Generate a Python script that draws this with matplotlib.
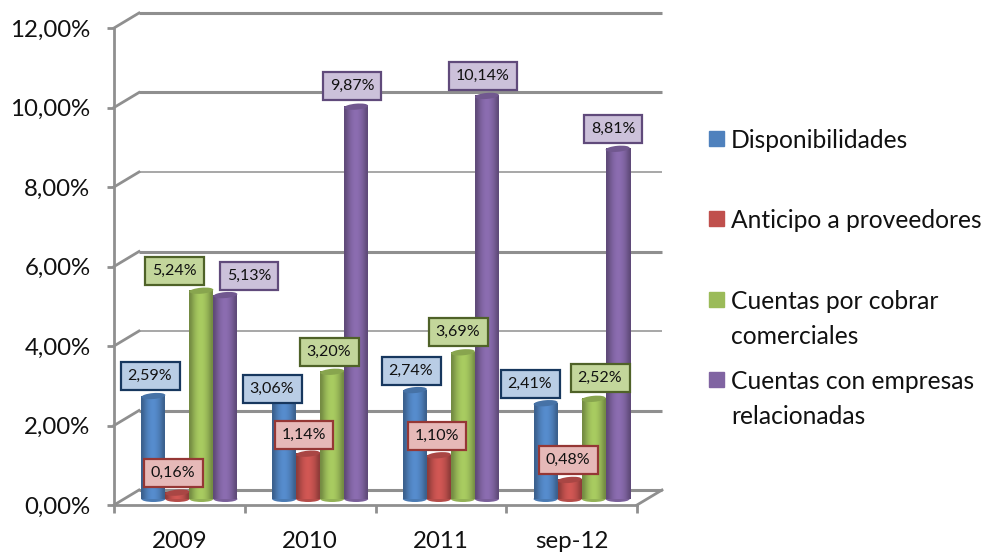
import numpy as np
import matplotlib
matplotlib.use('Agg')
import matplotlib.pyplot as plt
from matplotlib.colors import to_rgb
from matplotlib.patches import Ellipse, Rectangle
from matplotlib.transforms import IdentityTransform

years = ['2009', '2010', '2011', 'sep-12']
disponibilidades = [2.59, 3.06, 2.74, 2.41]
anticipo = [0.16, 1.14, 1.10, 0.48]
cuentas_cobrar = [5.24, 3.20, 3.69, 2.52]
cuentas_empresas = [5.13, 9.87, 10.14, 8.81]
yticks = [0, 2, 4, 6, 8, 10, 12]

series_names = ['Disponibilidades', 'Anticipo a proveedores',
                'Cuentas por cobrar\ncomerciales',
                'Cuentas con empresas\nrelacionadas']
series_values = [disponibilidades, anticipo, cuentas_cobrar, cuentas_empresas]
colors = ['#4F81BD', '#C0504D', '#9BBB59', '#8064A2']
box_fill = ['#B9CDE5', '#E6B9B8', '#C3D69B', '#CCC1DA']
box_edge = ['#17375E', '#953735', '#4F6228', '#604A7B']

# label box centres in pixels of the image, one row per series
label_x = [[150, 272, 411, 530], [173, 304, 437, 568], [174, 329, 458, 600], [249, 352, 483, 613]]
label_y = [[376, 389, 371, 384], [473, 435, 436, 460], [271, 352, 332, 378], [276, 86, 76, 129]]

W, H = 985, 552
plt.rcParams['font.family'] = ['Lato', 'DejaVu Sans']
fig = plt.figure(figsize=(W / 100, H / 100), dpi=100, facecolor='white')

# plot box in pixels: front plane of the fake 3d chart
left, right, top, bottom = 114, 637, 28, 505
ax = fig.add_axes([left / W, 1 - bottom / H, (right - left) / W, (bottom - top) / H])
ax.set_xlim(0, 4)
ax.set_ylim(0, 12)
xpx = (right - left) / 4
ypx = (bottom - top) / 12

# depth of the back wall
dx, dy = 25 / xpx, 15 / ypx
grey = '#8F8F8F'
for t in yticks:
    lw = 1.1 if t in (4, 8) else 2.2
    ax.plot([dx, 4 + dx], [t + dy, t + dy], color=grey, lw=lw, clip_on=False, zorder=1,
            solid_capstyle='butt')
    ax.plot([0, dx], [t, t + dy], color=grey, lw=2, clip_on=False, zorder=1)
ax.plot([4, 4 + dx], [0, dy], color=grey, lw=2, clip_on=False, zorder=1)

# cylinders
bar_w = 24 / xpx
base = 6 / ypx
shift = 10 / xpx
shade = np.array([0.74, 0.88, 1.0, 1.07, 1.1, 1.07, 1.0, 0.9, 0.74])
for j, vals in enumerate(series_values):
    rgb = np.array(to_rgb(colors[j]))
    strip = np.clip(np.outer(shade, rgb), 0, 1)[np.newaxis, :, :]
    for i, v in enumerate(vals):
        x = i + 0.5 + shift + (j - 1.5) * bar_w
        ax.bar(x, v, bar_w, bottom=base, color=colors[j], zorder=3)
        ax.imshow(strip, extent=(x - bar_w / 2, x + bar_w / 2, base, base + v),
                  aspect='auto', interpolation='bicubic', zorder=3.1)
        for yv, col in [(base, rgb * 0.95), (base + v, rgb * 0.88)]:
            cx, cy = ax.transData.transform((x, yv))
            ax.add_patch(Ellipse((cx, cy), 24, 6, angle=5 if yv > base else 0,
                                 transform=IdentityTransform(), facecolor=col,
                                 edgecolor='none', zorder=3.05 if yv == base else 3.2,
                                 clip_on=False))
ax.set_xlim(0, 4)
ax.set_ylim(0, 12)

# value labels
for j, vals in enumerate(series_values):
    for i, v in enumerate(vals):
        txt = f'{v:.2f}%'.replace('.', ',')
        fig.text(label_x[j][i] / W, 1 - label_y[j][i] / H, txt, ha='center', va='center',
                 fontsize=11.5, color='#111111', zorder=5,
                 bbox=dict(boxstyle='square,pad=0.45', facecolor=box_fill[j],
                           edgecolor=box_edge[j], linewidth=1.6))

# axes
for s in ['top', 'right']:
    ax.spines[s].set_visible(False)
for s in ['left', 'bottom']:
    ax.spines[s].set_color(grey)
    ax.spines[s].set_linewidth(2)
ax.set_yticks(yticks)
ax.set_yticklabels([f'{t:.2f}%'.replace('.', ',') for t in yticks], fontsize=17.3, color='#111111')
ax.set_xticks(range(5))
ax.set_xticklabels([])
ax.set_xticks([i + 0.5 for i in range(4)], minor=True)
ax.set_xticklabels(years, minor=True, fontsize=17.3, color='#111111')
ax.tick_params(axis='y', length=5, width=2, color=grey, pad=12)
ax.tick_params(axis='x', which='major', length=6, width=2, color=grey)
ax.tick_params(axis='x', which='minor', length=0, pad=18.5)
ax.patch.set_alpha(0)

# legend
legend_y = [139, 219, 300, 380]
for name, col, ly in zip(series_names, colors, legend_y):
    fig.add_artist(Rectangle((709 / W, 1 - (ly + 7) / H), 15 / W, 15 / H, color=col,
                             transform=fig.transFigure))
    fig.text(731 / W, 1 - (ly - 10) / H, name, ha='left', va='top', fontsize=17.7,
             color='#111111', linespacing=1.62)

fig.savefig('out.png', dpi=100)
